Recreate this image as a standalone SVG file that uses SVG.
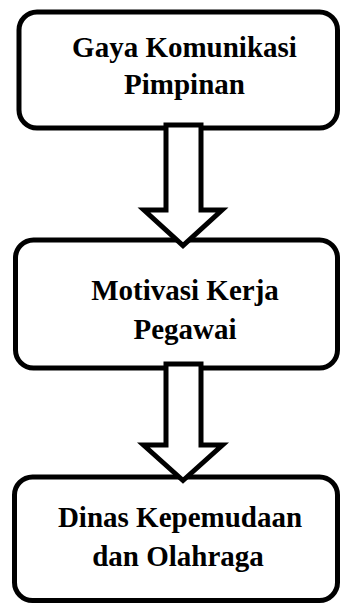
<svg xmlns="http://www.w3.org/2000/svg" width="340" height="603" viewBox="0 0 340 603">
<style>
.box{fill:#fff;stroke:#000;stroke-width:5}
.arrow{fill:#fff;stroke:#000;stroke-width:5;stroke-linejoin:miter;stroke-miterlimit:10}
text{font-family:'Liberation Serif','Times New Roman',Times,'DejaVu Serif',serif;font-weight:700;font-size:29px;fill:#000;text-anchor:middle}
</style>
<rect width="340" height="603" fill="#fff"/>
<g id="node-gaya">
<rect class="box" x="19" y="12" width="318.5" height="116" rx="18" ry="18"/>
<text x="184.5" y="57" font-family="Liberation Serif, serif">Gaya Komunikasi</text>
<text x="184.5" y="94" font-family="Liberation Serif, serif">Pimpinan</text>
</g>
<g id="node-motivasi">
<rect class="box" x="15.5" y="240" width="322" height="128" rx="18" ry="18"/>
<text x="185" y="300" font-family="Liberation Serif, serif">Motivasi Kerja</text>
<text x="185" y="339" font-family="Liberation Serif, serif">Pegawai</text>
</g>
<g id="node-dinas">
<rect class="box" x="14.5" y="477" width="323" height="123.5" rx="18" ry="18"/>
<text x="180" y="527" font-family="Liberation Serif, serif">Dinas Kepemudaan</text>
<text x="178" y="566" font-family="Liberation Serif, serif">dan Olahraga</text>
</g>
<g id="connectors">
<polygon class="arrow" points="166,125 201,125 201,210 222,210 183,245.5 144,210 166,210"/>
<polygon class="arrow" points="166,364 201,364 201,445 222.5,445 183,480.5 143.5,445 166,445"/>
</g>
</svg>
